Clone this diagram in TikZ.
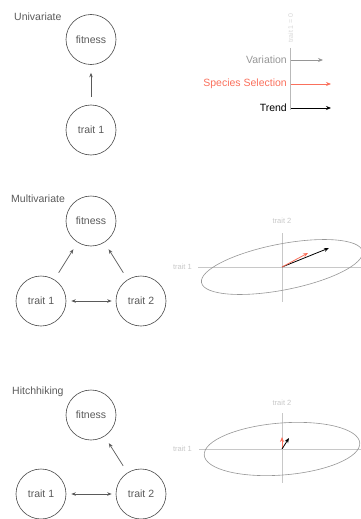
\documentclass[tikz,border=0pt]{standalone}
\usepackage{fontspec}
\setmainfont{Liberation Sans}
\usetikzlibrary{arrows.meta}
\definecolor{ink}{RGB}{90,90,90}
\definecolor{rim}{RGB}{70,70,70}
\definecolor{sel}{RGB}{250,112,92}
\definecolor{vari}{RGB}{150,150,150}
\definecolor{axisgray}{RGB}{200,200,200}
\tikzset{
  trait/.style={circle,draw=rim,text=ink,minimum size=50pt,inner sep=0pt,
    line width=0.6pt,font=\fontsize{10.5}{12}\selectfont},
  link/.style={-{Stealth[length=4.5pt,width=3.5pt]},draw=ink,line width=0.7pt,
    shorten <=8pt,shorten >=8pt},
  both/.style={{Stealth[length=4.5pt,width=3.5pt]}-{Stealth[length=4.5pt,width=3.5pt]},
    draw=ink,line width=0.7pt,shorten <=5pt,shorten >=4pt},
  title/.style={anchor=west,inner sep=0pt,text=ink,font=\fontsize{10.5}{12}\selectfont},
  axis/.style={draw=axisgray,line width=0.6pt},
  axislabel/.style={inner sep=0pt,text=axisgray,font=\fontsize{7.5}{8}\selectfont},
  vec/.style={-{Stealth[length=5pt,width=4pt]},line width=0.8pt},
  legtext/.style={anchor=east,inner sep=0pt,font=\fontsize{10.5}{12}\selectfont},
}
\begin{document}
\begin{tikzpicture}[x=1pt,y=-1pt]
  \useasboundingbox (0,0) rectangle (361,519);
  % univariate
  \node[title] (uni) at (14,17) {Univariate};
  \node[trait] (ufit) at (91,39.5) {fitness};
  \node[trait] (utr1) at (91,130) {trait 1};
  \draw[link] (utr1) -- (ufit);
  % legend
  \coordinate (ltop) at (290.7,48);
  \coordinate (lbot) at (290.7,110);
  \draw[draw={rgb,255:red,185;green,185;blue,185},line width=0.6pt] (ltop) -- (lbot);
  \node[axislabel,rotate=90,text={rgb,255:red,215;green,215;blue,215},
    font=\fontsize{7}{8}\selectfont] (lzero) at (290.7,28) {trait 1 = 0};
  \coordinate (lvar) at (290.7,60);
  \coordinate (lsel) at (290.7,84);
  \coordinate (ltrd) at (290.7,108);
  \coordinate (evar) at (323,60);
  \coordinate (esel) at (331,84);
  \coordinate (etrd) at (331,108);
  \node[legtext,text=vari] (tvar) at (287,60) {Variation};
  \node[legtext,text=sel] (tsel) at (287,84) {Species Selection};
  \node[legtext,text=black] (ttrd) at (287,108) {Trend};
  \draw[vec,vari] (lvar) -- (evar);
  \draw[vec,sel] (lsel) -- (esel);
  \draw[vec,black] (ltrd) -- (etrd);
  % multivariate
  \node[title] (multi) at (11,199) {Multivariate};
  \node[trait] (mfit) at (91,221) {fitness};
  \node[trait] (mtr1) at (41,301) {trait 1};
  \node[trait] (mtr2) at (141,301) {trait 2};
  \draw[link] (mtr1) -- (mfit);
  \draw[link] (mtr2) -- (mfit);
  \draw[both] (mtr1) -- (mtr2);
  \coordinate (mo) at (282,267);
  \coordinate (mh1) at (198,267);
  \coordinate (mh2) at (361,267);
  \coordinate (mv1) at (282,233);
  \coordinate (mv2) at (282,302);
  \draw[axis] (mh1) -- (mh2);
  \draw[axis] (mv1) -- (mv2);
  \node[axislabel,anchor=east] (mx) at (192,267) {trait 1};
  \node[axislabel] (my) at (282,221) {trait 2};
  \draw[vari,line width=0.6pt,rotate around={11:(mo)}] (mo) ellipse [x radius=82pt,y radius=23pt];
  \coordinate (msel) at (308,253);
  \coordinate (mtrd) at (329,248);
  \draw[vec,black] (mo) -- (mtrd);
  \draw[vec,sel] (mo) -- (msel);
  % hitchhiking
  \node[title] (hitch) at (12,392) {Hitchhiking};
  \node[trait] (hfit) at (91,415) {fitness};
  \node[trait] (htr1) at (41,494) {trait 1};
  \node[trait] (htr2) at (141,494) {trait 2};
  \draw[link] (htr2) -- (hfit);
  \draw[both] (htr1) -- (htr2);
  \coordinate (ho) at (282,449);
  \coordinate (hh1) at (199,449);
  \coordinate (hh2) at (361,449);
  \coordinate (hv1) at (282,413);
  \coordinate (hv2) at (282,483);
  \draw[axis] (hh1) -- (hh2);
  \draw[axis] (hv1) -- (hv2);
  \node[axislabel,anchor=east] (hx) at (192,449) {trait 1};
  \node[axislabel] (hy) at (282,403) {trait 2};
  \draw[vari,line width=0.6pt,rotate around={4.5:(ho)}] (ho) ellipse [x radius=78pt,y radius=26pt];
  \coordinate (hsel) at (282,437);
  \coordinate (htrd) at (289,438);
  \draw[vec,sel] (ho) -- (hsel);
  \draw[vec,black] (ho) -- (htrd);
\end{tikzpicture}
\end{document}
